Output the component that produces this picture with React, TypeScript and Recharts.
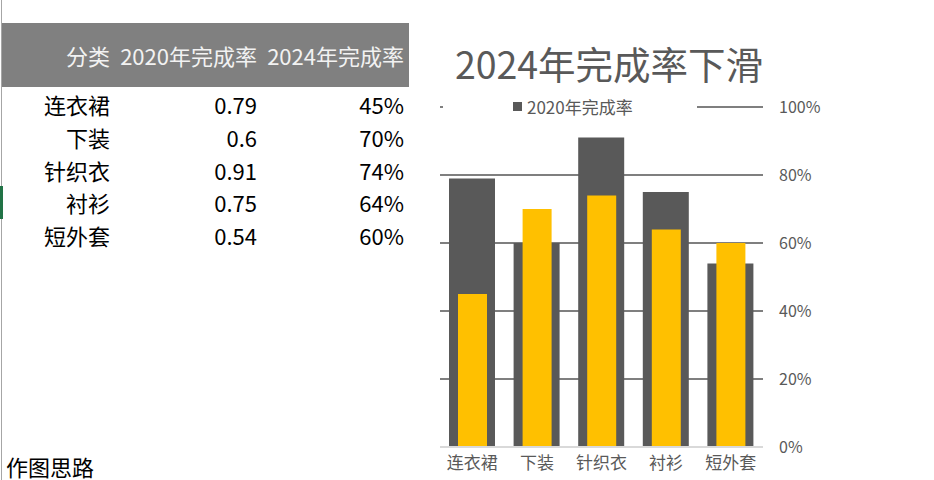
import React from "react";
import { BarChart, Bar, XAxis, YAxis, CartesianGrid } from "recharts";

const categories = ["连衣裙", "下装", "针织衣", "衬衫", "短外套"];
const rate2020 = [0.79, 0.6, 0.91, 0.75, 0.54];
const rate2024 = [0.45, 0.7, 0.74, 0.64, 0.6];
const rate2020Text = ["0.79", "0.6", "0.91", "0.75", "0.54"];
const rate2024Text = ["45%", "70%", "74%", "64%", "60%"];
const headers = ["分类", "2020年完成率", "2024年完成率"];
const yTicks = [0, 0.2, 0.4, 0.6, 0.8, 1];
const title = "2024年完成率下滑";
const note = "作图思路";

const data = categories.map((c, i) => ({ name: c, r2020: rate2020[i], r2024: rate2024[i] }));

const FONT = '"Noto Sans CJK SC", "Noto Sans", sans-serif';
const GRAY = "#595959";

const colRights = [110, 257, 404];

export default function App() {
  return (
    <div style={{ position: "absolute", left: 0, top: 0, width: 934, height: 480, background: "#fff", fontFamily: FONT, overflow: "hidden" }}>
      {/* sheet left border */}
      <div style={{ position: "absolute", left: 1, top: 0, width: 1, height: 480, background: "#a6a6a6" }} />
      <div style={{ position: "absolute", left: 0, top: 186, width: 3, height: 33, background: "#217346" }} />
      {/* header band */}
      <div style={{ position: "absolute", left: 2, top: 23, width: 407, height: 64, background: "#808080" }} />
      {headers.map((h, i) => (
        <div key={h} style={{ position: "absolute", right: 934 - colRights[i], top: 23, height: 64, lineHeight: "64px", fontSize: 22, color: "#f2f2f2", whiteSpace: "nowrap" }}>{h}</div>
      ))}
      {categories.map((c, i) => (
        <React.Fragment key={c}>
          <div style={{ position: "absolute", right: 934 - colRights[0], top: 88 + 32.8 * i, height: 32.8, lineHeight: "32.8px", fontSize: 22, color: "#000", whiteSpace: "nowrap" }}>{c}</div>
          <div style={{ position: "absolute", right: 934 - colRights[1], top: 88 + 32.8 * i, height: 32.8, lineHeight: "32.8px", fontSize: 22, color: "#000", whiteSpace: "nowrap" }}>{rate2020Text[i]}</div>
          <div style={{ position: "absolute", right: 934 - colRights[2], top: 88 + 32.8 * i, height: 32.8, lineHeight: "32.8px", fontSize: 22, color: "#000", whiteSpace: "nowrap" }}>{rate2024Text[i]}</div>
        </React.Fragment>
      ))}
      <div style={{ position: "absolute", left: 6, top: 452, height: 28, lineHeight: "28px", fontSize: 22, color: "#000", whiteSpace: "nowrap" }}>{note}</div>

      {/* chart */}
      <div style={{ position: "absolute", left: 0, top: 0 }}>
        <BarChart width={934} height={480} data={data} margin={{ top: 107, right: 111, bottom: 0, left: 440 }} barGap={0} barCategoryGap={0}>
          <CartesianGrid xAxisId="a" vertical={false} horizontalValues={[0.2, 0.4, 0.6, 0.8, 1]} stroke="#7f7f7f" strokeWidth={2} />
          <XAxis xAxisId="a" dataKey="name" height={33} axisLine={{ stroke: "#d9d9d9", strokeWidth: 2 }} tickLine={false} tickSize={0} tickMargin={10} tick={{ fontSize: 17, fill: GRAY, fontFamily: FONT }} interval={0} />
          <XAxis xAxisId="b" dataKey="name" hide />
          <YAxis orientation="right" width={60} domain={[0, 1]} ticks={yTicks} axisLine={false} tickLine={false} tickSize={0} tickMargin={16} tickFormatter={(v: number) => `${Math.round(v * 100)}%`} tick={{ fontSize: 16, fill: GRAY, fontFamily: FONT, textAnchor: "start" }} interval={0} />
          <Bar xAxisId="a" dataKey="r2020" name="2020年完成率" fill={GRAY} barSize={46} isAnimationActive={false} />
          <Bar xAxisId="b" dataKey="r2024" name="2024年完成率" fill="#FFC000" barSize={29} isAnimationActive={false} />
        </BarChart>
      </div>

      {/* title */}
      <div style={{ position: "absolute", left: 409, width: 400, top: 38, height: 50, lineHeight: "50px", textAlign: "center", fontSize: 37.5, color: GRAY, whiteSpace: "nowrap" }}>{title}</div>

      {/* legend */}
      <div style={{ position: "absolute", left: 443, top: 96, width: 254, height: 22, background: "#fff" }}>
        <div style={{ position: "absolute", left: 70, top: 6, width: 9, height: 9, background: GRAY }} />
        <div style={{ position: "absolute", left: 84, top: 0, height: 22, lineHeight: "22px", fontSize: 17, color: GRAY, whiteSpace: "nowrap" }}>2020年完成率</div>
      </div>
    </div>
  );
}
